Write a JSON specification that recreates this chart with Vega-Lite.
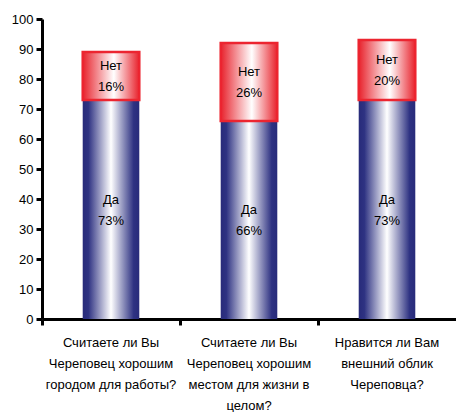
{
  "$schema": "https://vega.github.io/schema/vega-lite/v6.json",
  "width": 414,
  "height": 300,
  "padding": {"left": 11, "top": 13, "right": 0, "bottom": 0},
  "background": "white",
  "config": {
    "view": {"stroke": null},
    "font": "Liberation Sans",
    "axis": {"labelFont": "Liberation Sans", "labelFontSize": 13, "labelColor": "black", "domainColor": "black", "tickColor": "black", "grid": false}
  },
  "data": {
    "values": [
      {"q": "Q1", "answer": "Да", "pct": 73},
      {"q": "Q1", "answer": "Нет", "pct": 16},
      {"q": "Q2", "answer": "Да", "pct": 66},
      {"q": "Q2", "answer": "Нет", "pct": 26},
      {"q": "Q3", "answer": "Да", "pct": 73},
      {"q": "Q3", "answer": "Нет", "pct": 20}
    ]
  },
  "transform": [
    {"stack": "pct", "groupby": ["q"], "sort": [{"field": "answer", "order": "ascending"}], "as": ["y0", "y1"]},
    {"calculate": "(datum.y0 + datum.y1) / 2", "as": "ymid"},
    {"calculate": "datum.answer + '\\n' + datum.pct + '%'", "as": "label"}
  ],
  "encoding": {
    "x": {
      "field": "q", "type": "nominal", "sort": null,
      "scale": {"paddingInner": 0, "paddingOuter": 0},
      "axis": {
        "title": null, "labelAngle": 0, "bandPosition": 0,
        "domainWidth": 3, "tickWidth": 3, "tickSize": 6, "labelPadding": 11,
        "labelBaseline": "top", "labelLineHeight": 21,
        "labelExpr": "datum.value == 'Q1' ? ['Считаете ли Вы', 'Череповец хорошим', 'городом для работы?'] : datum.value == 'Q2' ? ['Считаете ли Вы', 'Череповец хорошим', 'местом для жизни в', 'целом?'] : ['Нравится ли Вам', 'внешний облик', 'Череповца?']"
      }
    }
  },
  "layer": [
    {
      "transform": [{"filter": "datum.answer === 'Да'"}],
      "mark": {
        "type": "bar", "width": {"band": 0.41},
        "fill": {"gradient": "linear", "x1": 0, "x2": 1, "y1": 0, "y2": 0, "stops": [
          {"offset": 0, "color": "#282b7a"},
          {"offset": 0.1, "color": "#2e3282"},
          {"offset": 0.5, "color": "#ffffff"},
          {"offset": 0.9, "color": "#2e3282"},
          {"offset": 1, "color": "#282b7a"}
        ]}
      },
      "encoding": {
        "y": {"field": "y0", "type": "quantitative", "scale": {"domain": [0, 100]},
          "axis": {"title": null, "values": [0,10,20,30,40,50,60,70,80,90,100], "labelOverlap": false, "domainWidth": 3, "tickWidth": 3, "tickSize": 6, "labelPadding": 3}},
        "y2": {"field": "y1"}
      }
    },
    {
      "transform": [{"filter": "datum.answer === 'Нет'"}],
      "mark": {
        "type": "bar", "width": {"band": 0.41}, "stroke": "#ec2530", "strokeWidth": 2.5,
        "fill": {"gradient": "linear", "x1": 0, "x2": 1, "y1": 0, "y2": 0, "stops": [
          {"offset": 0, "color": "#e8222c"},
          {"offset": 0.55, "color": "#ffffff"},
          {"offset": 1, "color": "#e8222c"}
        ]}
      },
      "encoding": {
        "y": {"field": "y0", "type": "quantitative",
          "axis": {"title": null, "values": [0,10,20,30,40,50,60,70,80,90,100], "labelOverlap": false, "domainWidth": 3, "tickWidth": 3, "tickSize": 6, "labelPadding": 3}},
        "y2": {"field": "y1"}
      }
    },
    {
      "mark": {"type": "text", "fontSize": 13, "lineBreak": "\n", "lineHeight": 21, "color": "black", "baseline": "middle", "dy": -10},
      "encoding": {
        "y": {"field": "ymid", "type": "quantitative",
          "axis": {"title": null, "values": [0,10,20,30,40,50,60,70,80,90,100], "labelOverlap": false, "domainWidth": 3, "tickWidth": 3, "tickSize": 6, "labelPadding": 3}},
        "text": {"field": "label", "type": "nominal"}
      }
    }
  ]
}
